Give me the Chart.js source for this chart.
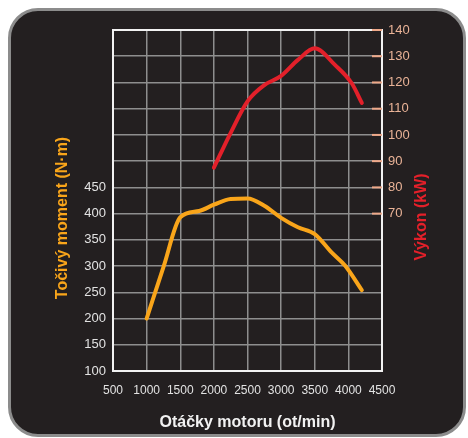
<!DOCTYPE html>
<html>
<head>
<meta charset="utf-8">
<script src="https://cdn.jsdelivr.net/npm/chart.js@4/dist/chart.umd.min.js"></script>
<style>
  html, body { margin: 0; padding: 0; background: #fff; }
  #wrap { position: relative; width: 468px; height: 438px; overflow: hidden; }
  #frame {
    position: absolute; left: 8px; top: 8px; width: 452px; height: 423px;
    background: #231f20; border: 3px solid #8c8c8c; border-radius: 30px;
  }
  #myChart { position: absolute; left: 0; top: 0; }
</style>
</head>
<body>
<div id="wrap">
  <div id="frame"></div>
  <canvas id="myChart" width="468" height="438"></canvas>
</div>
<script>
const ctx = document.getElementById('myChart');

// otáčky a točivý moment
const torqueRpm = [1000, 1250, 1500, 1780, 2000, 2250, 2500, 2750, 3000, 3250, 3500, 3750, 3950, 4200];
const torque = [200, 298, 393, 405, 417, 428, 429, 415, 392, 374, 361, 326, 301, 254];

// otáčky a výkon
const powerRpm = [2000, 2250, 2500, 2750, 3000, 3250, 3500, 3800, 4050, 4200];
const power = [87.5, 100.8, 112.8, 119, 122.5, 128.6, 133, 126.7, 119.7, 112.2];

const rpmTicks = [500, 1000, 1500, 2000, 2500, 3000, 3500, 4000, 4500];
const torqueTicks = [100, 150, 200, 250, 300, 350, 400, 450];
const powerTicks = [70, 80, 90, 100, 110, 120, 130, 140];

const orange = '#f9a51a';
const red = '#e3202a';
const salmon = '#efa98a';

const extras = {
    id: 'extras',
    beforeDatasetsDraw(chart) {
        const c = chart.ctx;
        const a = chart.chartArea;
        const yr = chart.scales.y2;
        c.save();
        c.strokeStyle = '#f2f2f2';
        c.lineWidth = 2;
        c.strokeRect(a.left, a.top, a.right - a.left, a.bottom - a.top);
        c.strokeStyle = salmon;
        c.lineWidth = 2;
        powerTicks.forEach(v => {
            const y = yr.getPixelForValue(v);
            c.beginPath();
            c.moveTo(a.right - 10, y);
            c.lineTo(a.right, y);
            c.stroke();
        });
        c.restore();
    },
    afterDraw(chart) {
        const c = chart.ctx;
        c.save();
        c.font = 'bold 16px "Liberation Sans", Arial, sans-serif';
        c.textAlign = 'center';
        c.textBaseline = 'middle';
        c.fillStyle = orange;
        c.translate(63, 218);
        c.rotate(-Math.PI / 2);
        c.fillText('Točivý moment (N·m)', 0, 0);
        c.restore();
        c.save();
        c.font = 'bold 16px "Liberation Sans", Arial, sans-serif';
        c.textAlign = 'center';
        c.textBaseline = 'middle';
        c.fillStyle = red;
        c.translate(422, 217);
        c.rotate(-Math.PI / 2);
        c.fillText('Výkon (kW)', 0, 0);
        c.restore();
    }
};

new Chart(ctx, {
    type: 'line',
    data: {
        datasets: [{
            label: 'Točivý moment',
            data: torqueRpm.map((r, i) => ({ x: r, y: torque[i] })),
            borderColor: orange,
            borderWidth: 4,
            pointRadius: 0,
            cubicInterpolationMode: 'monotone',
            borderCapStyle: 'round',
            borderJoinStyle: 'round',
            yAxisID: 'y'
        }, {
            label: 'Výkon',
            data: powerRpm.map((r, i) => ({ x: r, y: power[i] })),
            borderColor: red,
            borderWidth: 4,
            pointRadius: 0,
            cubicInterpolationMode: 'monotone',
            borderCapStyle: 'round',
            borderJoinStyle: 'round',
            yAxisID: 'y2'
        }]
    },
    options: {
        responsive: false,
        animation: false,
        layout: { padding: { top: 30, left: 0, right: 0, bottom: 0 } },
        plugins: {
            legend: { display: false },
            tooltip: { enabled: false }
        },
        scales: {
            x: {
                type: 'linear',
                min: 500,
                max: 4500,
                afterBuildTicks: s => { s.ticks = rpmTicks.map(v => ({ value: v })); },
                afterFit: s => { s.height = 67; },
                grid: { color: '#8e8e8e', lineWidth: 1.5, drawTicks: false },
                border: { display: false },
                ticks: {
                    color: '#e2e2e2',
                    padding: 12,
                    maxRotation: 0,
                    autoSkip: false,
                    font: { family: '"Liberation Sans Narrow", "Liberation Sans", Arial', size: 12 },
                    callback: v => String(v)
                },
                title: {
                    display: true,
                    text: 'Otáčky motoru (ot/min)',
                    color: '#f2f2f2',
                    font: { family: '"Liberation Sans", Arial', size: 16, weight: 'bold' },
                    padding: { top: 0, bottom: 6 }
                }
            },
            y: {
                position: 'left',
                min: 100,
                max: 750,
                afterBuildTicks: s => {
                    const t = [];
                    for (let v = 100; v <= 750; v += 50) t.push({ value: v });
                    s.ticks = t;
                },
                afterFit: s => { s.width = 113; },
                grid: { color: '#8e8e8e', lineWidth: 1.5, drawTicks: false },
                border: { display: false },
                ticks: {
                    color: '#e2e2e2',
                    padding: 7,
                    autoSkip: false,
                    font: { family: '"Liberation Sans", Arial', size: 13 },
                    callback: v => torqueTicks.includes(v) ? String(v) : ''
                }
            },
            y2: {
                position: 'right',
                min: 10,
                max: 140,
                afterBuildTicks: s => {
                    const t = [];
                    for (let v = 10; v <= 140; v += 10) t.push({ value: v });
                    s.ticks = t;
                },
                afterFit: s => { s.width = 86; },
                grid: { display: false, drawTicks: false },
                border: { display: false },
                ticks: {
                    color: '#eab397',
                    padding: 6,
                    autoSkip: false,
                    font: { family: '"Liberation Sans", Arial', size: 13 },
                    callback: v => powerTicks.includes(v) ? String(v) : ''
                }
            }
        }
    },
    plugins: [extras]
});
</script>
</body>
</html>
